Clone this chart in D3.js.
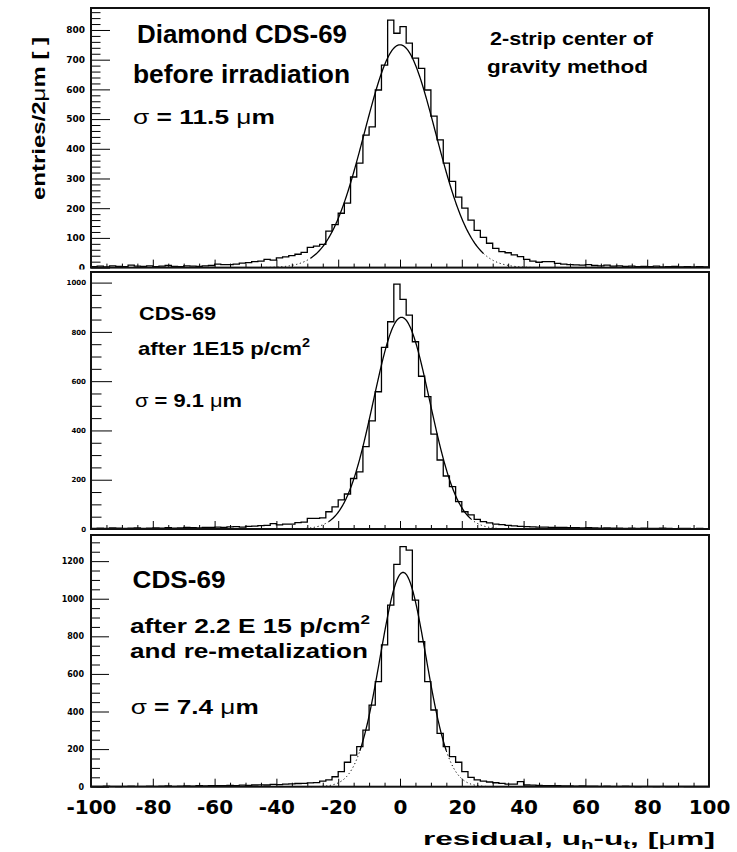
<!DOCTYPE html>
<html>
<head>
<meta charset="utf-8">
<script src="https://cdn.jsdelivr.net/npm/d3@7"></script>
<style>
  body { margin: 0; background: #fff; }
  svg { display: block; }
  .nota { font-family: "Liberation Sans", Arial, sans-serif; font-weight: bold; fill: #000; }
  .tick text { font-family: "DejaVu Sans", sans-serif; font-weight: bold; fill: #000; }
</style>
</head>
<body>
<div id="graf"></div>
<script>
// Residuos del detector de diamante CDS-69, tres histogramas con ajuste gaussiano
//

// bordes inferiores de los bins de 2 um, de -100 a 98
binEdges = d3.range(-100, 100, 2)

// cuentas por bin
countsTop = [
  3, 5, 2, 6, 4, 3, 8, 5, 4, 6,
  3, 5, 7, 4, 3, 6, 5, 4, 6, 7,
  12, 10, 10, 12, 15, 17, 20, 22, 28, 25,
  33, 36, 40, 45, 51, 68, 72, 78, 123, 145,
  183, 217, 305, 352, 446, 474, 598, 682, 833, 789,
  811, 756, 705, 671, 598, 510, 430, 352, 290, 237,
  200, 160, 125, 102, 82, 65, 54, 50, 43, 37,
  28, 22, 18, 20, 20, 14, 12, 10, 9, 8,
  10, 7, 6, 8, 5, 6, 4, 5, 3, 4,
  3, 5, 2, 3, 4, 2, 3, 2, 3, 2
]
countsMid = [
  2, 3, 2, 4, 3, 2, 3, 4, 2, 3,
  4, 3, 5, 3, 4, 6, 5, 4, 7, 6,
  8, 7, 9, 10, 8, 11, 12, 14, 15, 22,
  17, 20, 20, 26, 28, 43, 43, 45, 70, 90,
  118, 142, 205, 232, 334, 439, 557, 737, 841, 994,
  932, 868, 760, 620, 537, 385, 280, 215, 172, 111,
  70, 57, 39, 30, 25, 20, 18, 15, 13, 11,
  10, 9, 8, 8, 7, 6, 6, 5, 5, 4,
  5, 4, 3, 4, 3, 3, 2, 3, 2, 3,
  2, 2, 3, 2, 1, 2, 2, 1, 2, 1
]
countsBot = [
  2, 1, 3, 2, 1, 2, 3, 2, 2, 3,
  2, 3, 4, 2, 3, 4, 3, 5, 4, 5,
  6, 5, 7, 6, 8, 7, 9, 10, 9, 12,
  11, 14, 15, 17, 18, 20, 22, 30, 36, 53,
  80, 130, 168, 213, 301, 434, 559, 754, 966, 1183,
  1277, 1259, 993, 771, 559, 408, 284, 213, 160, 130,
  80, 50, 36, 30, 25, 21, 18, 14, 14, 27,
  9, 8, 7, 6, 5, 5, 4, 4, 3, 4,
  3, 3, 2, 3, 2, 2, 3, 2, 1, 2,
  2, 1, 2, 1, 1, 2, 1, 1, 1, 1
]
counts = [countsTop, countsMid, countsBot]

// parametros del ajuste gaussiano y rango del ajuste
fitAmp   = [750, 859, 1140]
fitMean  = [0, 0.5, 1]
fitSigma = [11.5, 9.1, 7.4]
fitLo    = [-29, -23, -13]
fitHi    = [27, 23, 15]

// ejes
xDomain = [-100, 100]
xMajor  = d3.range(-100, 101, 20)
xMinor  = d3.range(-100, 101, 5)
yMax    = [874, 1043, 1339]
yMajor  = [100, 200, 200]
yMinor  = [20, 50, 50]

// textos
xTitle = 'residual, u'
yTitle = 'entries/2'

// geometria de cada panel
paneles = [
  { padTop: 0,     padBot: 269.5, top: 8,   bot: 267.6, yTick: 19, yFont: 9, yPad: 6 },
  { padTop: 269.5, padBot: 532,   top: 272, bot: 529,   yTick: 21, yFont: 7, yPad: 5 },
  { padTop: 532,   padBot: 852,   top: 535, bot: 786.7, yTick: 18, yFont: 8, yPad: 7 }
]

svg = d3.select('#graf').append('svg')
        .attr('width', 737)
        .attr('height', 852)

x = d3.scaleLinear().domain(xDomain).range([91, 709])

// etiquetas con guion normal, como en la figura
fmt = d => String(d)

// escribe partes de texto: b negrita, g griega normal, sup/sub indices
function escribir(sel, partes, s) {
  off = 0
  partes.forEach(([t, tipo]) => {
    ts = sel.append('tspan').text(t)
    if (tipo == 'g') ts.attr('font-weight', 'normal')
    if (tipo == 'sup' || tipo == 'sub') {
      d = tipo == 'sup' ? -s * 0.42 : s * 0.2
      ts.attr('font-size', s * 0.65).attr('dy', d - off)
      off = d
    } else if (off != 0) {
      ts.attr('dy', -off)
      off = 0
    }
  })
}

function nota(g, n) {
  t = g.append('text')
        .attr('class', 'nota')
        .attr('x', n.x)
        .attr('y', n.y)
        .attr('font-size', n.s)
        .attr('textLength', n.w)
        .attr('lengthAdjust', 'spacingAndGlyphs')
  escribir(t, n.p, n.s)
  return t
}

notas = [
  [
    { x: 137, y: 43,  s: 25,   w: 210, p: [['Diamond CDS-69']] },
    { x: 133, y: 83,  s: 25,   w: 217, p: [['before irradiation']] },
    { x: 133, y: 123.5, s: 21, w: 142, p: [['σ', 'g'], [' = 11.5 '], ['μ', 'g'], ['m']] },
    { x: 490, y: 45,  s: 18.5, w: 163, p: [['2-strip center of']] },
    { x: 487, y: 72.5, s: 18.5, w: 161, p: [['gravity method']] }
  ],
  [
    { x: 139, y: 320, s: 18.5, w: 77,  p: [['CDS-69']] },
    { x: 138, y: 355, s: 18.5, w: 172, p: [['after 1E15 p/cm'], ['2', 'sup']] },
    { x: 135, y: 406.5, s: 18.5, w: 107, p: [['σ', 'g'], [' = 9.1 '], ['μ', 'g'], ['m']] }
  ],
  [
    { x: 132.5, y: 588, s: 23, w: 93,  p: [['CDS-69']] },
    { x: 130, y: 633,   s: 21, w: 240, p: [['after 2.2 E 15 p/cm'], ['2', 'sup']] },
    { x: 130, y: 657.7, s: 21, w: 238, p: [['and re-metalization']] },
    { x: 130.7, y: 714, s: 21, w: 128, p: [['σ', 'g'], [' = 7.4 '], ['μ', 'g'], ['m']] }
  ]
]

paneles.forEach((p, i) => {
  g = svg.append('g')

  // fondo del pad (recorta lo que sobresale del pad anterior)
  g.append('rect')
    .attr('x', 0).attr('y', p.padTop)
    .attr('width', 737).attr('height', p.padBot - p.padTop)
    .attr('fill', '#fff')

  y = d3.scaleLinear().domain([0, yMax[i]]).range([p.bot, p.top])

  // eje Y, ticks hacia dentro
  mayores = d3.range(0, yMax[i] + 1, yMajor[i])
  menores = d3.range(0, yMax[i] + 1, yMinor[i]).filter(v => v % yMajor[i] != 0)
  yAxis = g.append('g')
    .attr('transform', 'translate(91,0)')
    .call(d3.axisLeft(y).tickValues(mayores).tickSize(-p.yTick).tickPadding(p.yPad).tickFormat(fmt))
  yAxis.selectAll('text').attr('font-size', p.yFont)
  g.append('g')
    .attr('transform', 'translate(91,0)')
    .call(d3.axisLeft(y).tickValues(menores).tickSize(-p.yTick / 2).tickFormat(''))

  // eje X, ticks hacia arriba
  xAxis = g.append('g')
    .attr('transform', `translate(0,${p.bot})`)
    .call(d3.axisBottom(x).tickValues(xMajor).tickSize(-8).tickPadding(13)
      .tickFormat(i == 2 ? fmt : ''))
  xAxis.selectAll('text').attr('font-size', 20)
  g.append('g')
    .attr('transform', `translate(0,${p.bot})`)
    .call(d3.axisBottom(x).tickValues(xMinor.filter(v => v % 20 != 0)).tickSize(-4).tickFormat(''))

  g.selectAll('.domain').remove()
  g.selectAll('.tick line').attr('stroke', '#000')

  // histograma
  puntos = binEdges.map((e, k) => [e, counts[i][k]])
  puntos.push([xDomain[1], counts[i][counts[i].length - 1]])
  histo = d3.line()
            .x(d => x(d[0]))
            .y(d => y(d[1]))
            .curve(d3.curveStepAfter)
  g.append('path')
    .attr('d', histo(puntos))
    .attr('fill', 'none')
    .attr('stroke', '#000')
    .attr('stroke-width', 1.3)

  // ajuste gaussiano: continuo en el rango del ajuste, punteado fuera
  a = fitAmp[i], m = fitMean[i], s = fitSigma[i]
  gauss = v => a * Math.exp(-0.5 * ((v - m) / s) ** 2)
  curva = d3.line().x(v => x(v)).y(v => y(gauss(v)))
  tramos = [
    [m - 4.2 * s, fitLo[i], '1.2,2.6'],
    [fitLo[i], fitHi[i], null],
    [fitHi[i], m + 4.2 * s, '1.2,2.6']
  ]
  tramos.forEach(([lo, hi, dash]) => {
    vs = d3.range(lo, hi, 0.2).concat([hi])
    g.append('path')
      .attr('d', curva(vs))
      .attr('fill', 'none')
      .attr('stroke', '#000')
      .attr('stroke-width', dash ? 1 : 1.3)
      .attr('stroke-dasharray', dash)
  })

  // marco
  g.append('rect')
    .attr('x', 91).attr('y', p.top)
    .attr('width', 618).attr('height', p.bot - p.top)
    .attr('fill', 'none')
    .attr('stroke', '#111')
    .attr('stroke-width', 2)

  notas[i].forEach(n => nota(g, n))
})

// titulo eje X
tx = svg.append('text')
  .attr('class', 'nota')
  .attr('x', 423)
  .attr('y', 845)
  .attr('font-size', 19)
  .attr('textLength', 292)
  .attr('lengthAdjust', 'spacingAndGlyphs')
escribir(tx, [[xTitle], ['h', 'sub'], ['-u'], ['t', 'sub'], [', ['], ['μ', 'g'], ['m]']], 19)

// titulo eje Y
ty = svg.append('text')
  .attr('class', 'nota')
  .attr('transform', 'translate(45,37) rotate(-90)')
  .attr('text-anchor', 'end')
  .attr('font-size', 19)
  .attr('textLength', 163)
  .attr('lengthAdjust', 'spacingAndGlyphs')
escribir(ty, [[yTitle], ['μ', 'g'], ['m [ ]']], 19)
</script>
</body>
</html>
